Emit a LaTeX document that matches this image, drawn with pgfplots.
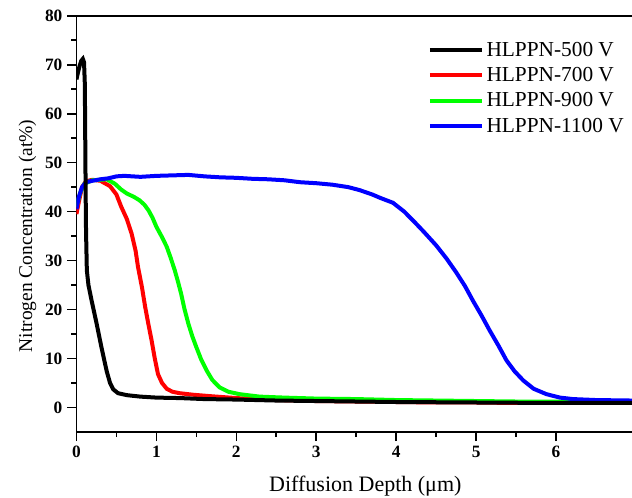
\documentclass[border=0pt]{standalone}
\usepackage{fontspec}
\setmainfont{Liberation Serif}
\usepackage{pgfplots}
\pgfplotsset{compat=1.18}

\pgfplotstableread{
x y
0 67
0.02 68.5
0.04 69.8
0.06 70.8
0.08 71.2
0.095 70.5
0.105 66
0.11 55
0.115 44
0.12 36
0.13 28
0.15 25
0.19 21.8
0.25 17.3
0.31 12.5
0.35 9.5
0.38 7.3
0.42 5
0.46 3.7
0.52 2.9
0.63 2.5
0.8 2.2
1.0 2.0
1.3 1.9
1.6 1.7
2.0 1.6
2.5 1.4
3.0 1.3
3.5 1.2
4.0 1.1
5.0 1.0
6.0 0.9
6.95 0.9
}\vfive

\pgfplotstableread{
x y
0 39.5
0.03 42
0.07 45
0.12 46.2
0.2 46.5
0.3 46.3
0.42 45.2
0.5 43.5
0.56 41
0.63 38.5
0.69 35.5
0.74 32
0.77 28.7
0.82 24.5
0.86 20.5
0.9 17
0.94 13.7
0.98 10
1.02 6.8
1.07 5
1.13 3.8
1.2 3.2
1.29 2.9
1.45 2.6
1.67 2.3
2.0 1.9
2.5 1.5
3.0 1.3
3.5 1.2
4.0 1.1
4.5 1.0
5.0 1.0
5.5 0.9
6.0 0.9
6.5 0.9
6.95 0.9
}\vseven

\pgfplotstableread{
x y
0 41
0.05 44
0.1 45.7
0.2 46.4
0.3 46.5
0.38 46.6
0.48 45.7
0.56 44.5
0.63 43.7
0.72 43
0.79 42.3
0.85 41.4
0.9 40.3
0.95 38.8
1.0 36.9
1.07 34.8
1.13 32.8
1.18 30.5
1.23 28
1.27 25.7
1.31 23.2
1.35 20.2
1.4 17.1
1.45 14.5
1.5 12.3
1.56 9.8
1.63 7.5
1.7 5.6
1.79 4.1
1.9 3.2
2.04 2.7
2.29 2.2
2.6 2.0
3.0 1.8
3.5 1.7
4.0 1.5
4.5 1.4
5.0 1.3
5.5 1.2
6.0 1.2
6.5 1.1
6.95 1.1
}\vnine

\pgfplotstableread{
x y
0 40.5
0.03 43
0.07 45
0.12 46
0.2 46.3
0.3 46.6
0.4 46.8
0.5 47.2
0.6 47.3
0.8 47.1
1.0 47.3
1.2 47.4
1.4 47.5
1.6 47.2
1.8 47.0
2.0 46.9
2.2 46.7
2.4 46.6
2.6 46.4
2.8 46.0
3.0 45.8
3.2 45.5
3.4 45.0
3.54 44.4
3.7 43.5
3.8 42.8
3.96 41.8
4.1 40.0
4.21 38.2
4.35 35.8
4.5 33.1
4.63 30.4
4.75 27.6
4.86 24.8
4.96 21.8
5.07 18.7
5.17 15.7
5.28 12.6
5.38 9.6
5.48 7.4
5.59 5.5
5.72 3.8
5.88 2.7
6.05 2.0
6.21 1.7
6.5 1.5
6.95 1.4
}\veleven

\begin{document}
\begin{tikzpicture}
\begin{axis}[
  width=416.6pt, height=312pt, scale only axis,
  xmin=0, xmax=6.95, ymin=-5, ymax=80,
  axis x line=box, axis y line=left,
  axis line style={-, line width=1.2pt},
  xtick={0,1,...,6}, ytick={0,10,...,80},
  minor x tick num=1, minor y tick num=1,
  xtick pos=bottom, ytick pos=left,
  tick align=outside,
  major tick length=7pt, minor tick length=4pt,
  every tick/.style={black, line width=1.2pt},
  tick label style={font=\fontsize{13}{13}\selectfont\bfseries},
  /pgf/number format/assume math mode=true,
  xlabel={Diffusion Depth (μm)},
  ylabel={Nitrogen Concentration (at\%)},
  every axis x label/.style={at={(axis description cs:0.520,-0.143)}, anchor=base,
    font=\fontsize{16.5}{16.5}\selectfont},
  every axis y label/.style={at={(axis description cs:-0.080,0.471)}, anchor=base, rotate=90,
    font=\fontsize{14.6}{14.6}\selectfont},
  legend style={draw=none, fill=none, at={(axis description cs:0.632,0.944)}, anchor=north west,
    font=\fontsize{16}{16}\selectfont, row sep=2.8pt, inner sep=0pt},
  legend cell align=left,
  legend image code/.code={\draw[#1, line width=3pt] (0pt,0pt) -- (39pt,0pt);},
  every axis plot/.append style={line width=3pt},
]
\addlegendimage{black}\addlegendentry{HLPPN-500 V}
\addlegendimage{red}\addlegendentry{HLPPN-700 V}
\addlegendimage{green}\addlegendentry{HLPPN-900 V}
\addlegendimage{blue}\addlegendentry{HLPPN-1100 V}
\addplot[red, forget plot] table[x=x, y=y] {\vseven};
\addplot[green, forget plot] table[x=x, y=y] {\vnine};
\addplot[blue, forget plot] table[x=x, y=y] {\veleven};
\addplot[black, forget plot] table[x=x, y=y] {\vfive};
\coordinate (bl) at (rel axis cs:-0.1376,-0.1587);
\coordinate (tr) at (rel axis cs:1,1.038);
\end{axis}
\pgfresetboundingbox
\path (bl) rectangle (tr);
\end{tikzpicture}
\end{document}
